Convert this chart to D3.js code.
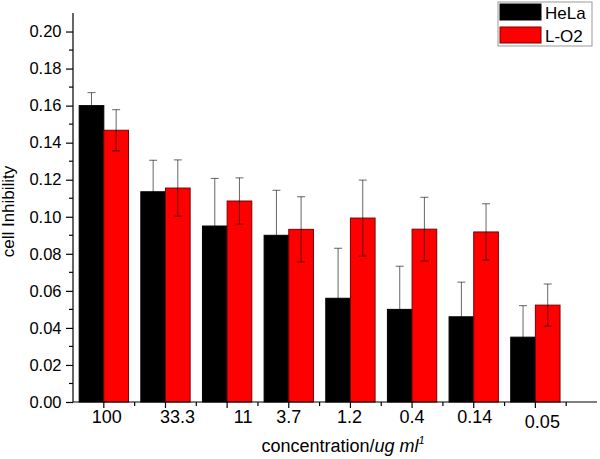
<!DOCTYPE html>
<html>
<head>
<meta charset="utf-8">
<script src="https://cdn.jsdelivr.net/npm/d3@7"></script>
<style>
  body { margin: 0; background: #fff; }
  svg { display: block; font-family: "Liberation Sans", Arial, sans-serif; }
</style>
</head>
<body>
<div id="chart-area"></div>
<script>
// concentrations (ug/ml) and the two cell lines
let categories = ["100", "33.3", "11", "3.7", "1.2", "0.4", "0.14", "0.05"];
let seriesNames = ["HeLa", "L-O2"];
let helaValues = [0.160, 0.1135, 0.095, 0.090, 0.056, 0.050, 0.046, 0.035];
let helaErrors = [0.007, 0.017, 0.0257, 0.0243, 0.027, 0.0233, 0.0187, 0.017];
let lo2Values = [0.1467, 0.1155, 0.1085, 0.0932, 0.0993, 0.0933, 0.0918, 0.0523];
let lo2Errors = [0.0111, 0.0152, 0.0125, 0.0176, 0.0205, 0.0172, 0.0152, 0.0114];
let yTickValues = [0, 0.02, 0.04, 0.06, 0.08, 0.10, 0.12, 0.14, 0.16, 0.18, 0.20];
let yMinorValues = [0.01, 0.03, 0.05, 0.07, 0.09, 0.11, 0.13, 0.15, 0.17, 0.19];

let colors = {"HeLa": "#000000", "L-O2": "#ff0000"};
let strokes = {"HeLa": "#000000", "L-O2": "#7a0000"};

// hand-placed label nudges (x, y) as in the original figure
let labelNudge = [[3, 0], [12, 0], [16, 0], [0, 0], [-1, 0], [0, 0], [1, 0], [7, 5]];

let width = 600, height = 459;
let plotLeft = 73, plotBottom = 402, plotTop = 13, axisRight = 597;

let svg = d3.select("#chart-area").append("svg")
    .attr("width", width)
    .attr("height", height);

let rows = categories.map((c, i) => ({
    cat: c,
    vals: [
        {name: "HeLa", v: helaValues[i], e: helaErrors[i]},
        {name: "L-O2", v: lo2Values[i], e: lo2Errors[i]}
    ]
}));

let x = d3.scaleBand()
    .domain(categories)
    .range([plotLeft, plotLeft + 8 * 61.65])
    .paddingInner(0.2)
    .paddingOuter(0.1);

let xSub = d3.scaleBand()
    .domain(seriesNames)
    .range([0, x.bandwidth()]);

let y = d3.scaleLinear()
    .domain([0, 0.21])
    .range([plotBottom, plotTop]);

// bars
let groups = svg.selectAll(".group")
    .data(rows)
    .enter()
    .append("g")
    .attr("class", "group")
    .attr("transform", d => "translate(" + x(d.cat) + ",0)");

groups.selectAll("rect")
    .data(d => d.vals)
    .enter()
    .append("rect")
    .attr("x", d => xSub(d.name))
    .attr("y", d => y(d.v))
    .attr("width", xSub.bandwidth())
    .attr("height", d => y(0) - y(d.v))
    .attr("fill", d => colors[d.name])
    .attr("stroke", d => strokes[d.name])
    .attr("stroke-width", 1);

// error bars (semi-transparent black: grey on white, hidden on black bars)
let err = groups.selectAll(".err")
    .data(d => d.vals)
    .enter()
    .append("g")
    .attr("class", "err")
    .attr("stroke", "#000")
    .attr("stroke-opacity", 0.6)
    .attr("stroke-width", 1);

err.append("line")
    .attr("x1", d => xSub(d.name) + xSub.bandwidth() / 2)
    .attr("x2", d => xSub(d.name) + xSub.bandwidth() / 2)
    .attr("y1", d => y(d.v - d.e))
    .attr("y2", d => y(d.v + d.e));

err.selectAll(".cap")
    .data(d => [d.v + d.e, d.v - d.e].map(t => ({name: d.name, t: t})))
    .enter()
    .append("line")
    .attr("x1", d => xSub(d.name) + xSub.bandwidth() / 2 - 4)
    .attr("x2", d => xSub(d.name) + xSub.bandwidth() / 2 + 4)
    .attr("y1", d => y(d.t))
    .attr("y2", d => y(d.t));

// y axis
let yAxis = d3.axisLeft(y)
    .tickValues(yTickValues)
    .tickFormat(d3.format(".2f"))
    .tickSize(7)
    .tickSizeOuter(0);

let yAxisGroup = svg.append("g")
    .attr("class", "y-axis axis")
    .attr("transform", "translate(" + plotLeft + ",0)")
    .call(yAxis);

yAxisGroup.selectAll("text")
    .attr("font-size", 16.5)
    .attr("font-family", "Liberation Sans, Arial, sans-serif")
    .attr("fill", "#000")
    .attr("x", -11.5);

yAxisGroup.selectAll(".yminor")
    .data(yMinorValues)
    .enter()
    .append("line")
    .attr("class", "yminor")
    .attr("x1", 0)
    .attr("x2", -4)
    .attr("y1", d => y(d))
    .attr("y2", d => y(d))
    .attr("stroke", "#000");

yAxisGroup.select(".domain")
    .attr("d", "M0," + plotBottom + "V" + plotTop);

// x axis
let xAxis = d3.axisBottom(x)
    .tickSize(6)
    .tickSizeOuter(0);

let xAxisGroup = svg.append("g")
    .attr("class", "x-axis axis")
    .attr("transform", "translate(0," + plotBottom + ")")
    .call(xAxis);

xAxisGroup.select(".domain")
    .attr("d", "M" + plotLeft + ",0H" + axisRight);

xAxisGroup.selectAll(".tick text")
    .attr("font-size", 18)
    .attr("font-family", "Liberation Sans, Arial, sans-serif")
    .attr("fill", "#000")
    .attr("y", 8)
    .attr("dx", (d, i) => labelNudge[i][0])
    .attr("dy", (d, i) => (0.71 * 18 + labelNudge[i][1]) + "px");

xAxisGroup.selectAll(".xminor")
    .data(categories)
    .enter()
    .append("line")
    .attr("class", "xminor")
    .attr("x1", d => x(d) + x.bandwidth() / 2 + x.step() / 2)
    .attr("x2", d => x(d) + x.bandwidth() / 2 + x.step() / 2)
    .attr("y1", 0)
    .attr("y2", 4)
    .attr("stroke", "#000");

svg.selectAll(".axis path, .axis line").attr("stroke-width", 1.2);

// axis titles
svg.append("text")
    .attr("transform", "translate(14," + ((plotTop + plotBottom) / 2 + 4) + ") rotate(-90)")
    .attr("text-anchor", "middle")
    .attr("font-size", 17)
    .text("cell Inhibility");

let xTitle = svg.append("text")
    .attr("x", 343)
    .attr("y", 452)
    .attr("text-anchor", "middle")
    .attr("font-size", 18);
xTitle.append("tspan").text("concentration/");
xTitle.append("tspan").attr("font-style", "italic").text("ug ml");
xTitle.append("tspan").attr("font-style", "italic").attr("font-size", 11).attr("dy", -8).text("1");

// legend
let legend = svg.append("g").attr("class", "legend");
legend.append("rect")
    .attr("x", 498).attr("y", 2)
    .attr("width", 94).attr("height", 44)
    .attr("fill", "#fff")
    .attr("stroke", "#999");

let items = legend.selectAll(".item")
    .data(seriesNames)
    .enter()
    .append("g")
    .attr("class", "item")
    .attr("transform", (d, i) => "translate(0," + (i * 23) + ")");

items.append("rect")
    .attr("x", 500).attr("y", 4)
    .attr("width", 41).attr("height", 16)
    .attr("fill", d => colors[d])
    .attr("stroke", d => strokes[d]);

items.append("text")
    .attr("x", 545).attr("y", 19)
    .attr("font-size", 17)
    .text(d => d);
</script>
</body>
</html>
